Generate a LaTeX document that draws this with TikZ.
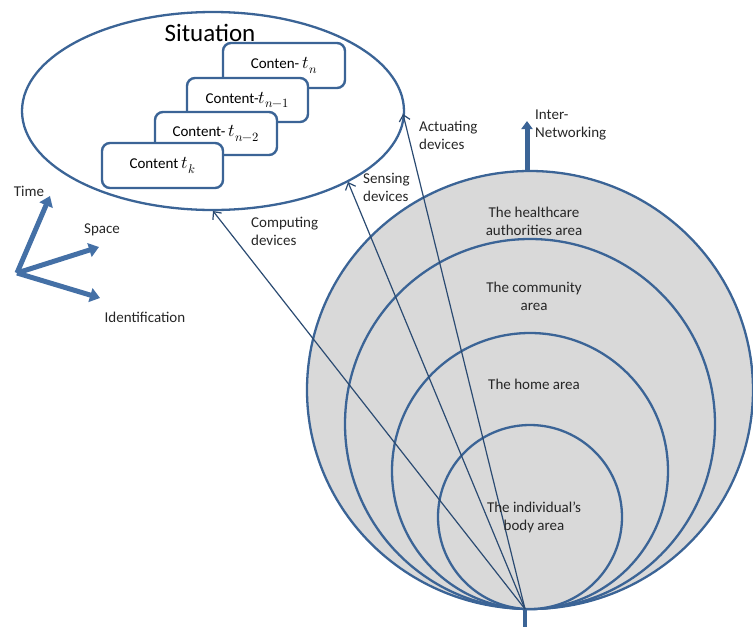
\documentclass[tikz,border=0pt]{standalone}
\usepackage{fontspec}
\usepackage{unicode-math}
\setmainfont{Carlito}
\setmathfont{Latin Modern Math}[Scale=1.2]
\usetikzlibrary{shapes.geometric,arrows.meta}
\definecolor{ringblue}{HTML}{3B6496}
\definecolor{linkblue}{HTML}{2B4B72}
\definecolor{axisblue}{HTML}{4470A6}
\definecolor{areagrey}{HTML}{D9D9D9}
\definecolor{txt}{HTML}{262626}
\tikzset{
  ring/.style={circle,draw=ringblue,fill=areagrey,line width=2.3pt,inner sep=0pt},
  contbox/.style={draw=ringblue,fill=white,rounded corners=8pt,line width=2.4pt,inner sep=0pt,text=black},
  link/.style={draw=linkblue,line width=1.2pt,-{Straight Barb[length=6pt,width=11pt,line width=1.2pt]}},
  axis/.style={draw=axisblue,line width=5pt,-{Triangle[length=10pt,width=14pt]}},
  lbl/.style={text=txt,align=left,inner sep=0pt},
  arealbl/.style={text=txt,align=center,inner sep=0pt}
}
\begin{document}
\begin{tikzpicture}[x=1pt,y=-1pt,font=\fontsize{15}{18}\selectfont]
\useasboundingbox (0,0) rectangle (753,627);
\begin{scope}
\clip (0,0) rectangle (753,627);
% concentric areas
\node[ring,ellipse,minimum width=446pt,minimum height=438pt] (hc) at (530,390) {};
\node[ring,minimum size=370pt] (com) at (530,424) {};
\node[ring,minimum size=276pt] (home) at (530,471) {};
\node[ring,minimum size=184pt] (body) at (530,517) {};
\end{scope}
\coordinate (src) at (525,609);
\coordinate (stem) at (525,627);
\draw[draw=ringblue,line width=4.5pt] (src) -- (stem);
% situation
\node[draw=ringblue,line width=2.3pt,ellipse,minimum width=382pt,minimum height=198pt,inner sep=0pt] (sit) at (213,111) {};
\node[text=black,font=\fontsize{25}{30}\selectfont,inner sep=0pt] (sitlbl) at (210,33) {Situation};
\node[contbox,minimum width=122pt,minimum height=45pt] (bn) at (284,65.5) {Conten- $t_n$};
\node[contbox,minimum width=121pt,minimum height=44pt] (bn1) at (247.5,100) {Content-$t_{n-1}$};
\node[contbox,minimum width=122pt,minimum height=43pt] (bn2) at (216,133.5) {Content- $t_{n-2}$};
\node[contbox,minimum width=121pt,minimum height=45pt] (bk) at (162.5,165.5) {Content $t_k$};
% device links
\coordinate (compEnd) at (213,211);
\coordinate (sensEnd) at (348,182);
\coordinate (actEnd) at (403,114);
\draw[link] (src) -- (compEnd);
\draw[link] (src) -- (sensEnd);
\draw[link] (src) -- (actEnd);
\node[lbl,anchor=west] (comp) at (251,231) {Computing\\devices};
\node[lbl,anchor=west] (sens) at (363,187) {Sensing\\devices};
\node[lbl,anchor=west] (act) at (419,135) {Actuating\\devices};
% inter-networking
\coordinate (hcTop) at (527,171);
\coordinate (netTip) at (527,121);
\draw[draw=ringblue,line width=5pt,-{Triangle[length=8pt,width=11pt]}] (hcTop) -- (netTip);
\node[lbl,anchor=west] (net) at (535,125) {Inter-\\Networking};
% area labels
\node[arealbl] (hcl) at (534,221) {The healthcare\\authorities area};
\node[arealbl] (coml) at (534,296) {The community\\area};
\node[arealbl] (homel) at (534,384) {The home area};
\node[arealbl] (bodyl) at (534,517) {The individual’s\\body area};
% axes
\coordinate (orig) at (17,273);
\coordinate (timeTip) at (50,196);
\coordinate (spaceTip) at (99,247);
\coordinate (idTip) at (100,298);
\draw[axis] (orig) -- (timeTip);
\draw[axis] (orig) -- (spaceTip);
\draw[axis] (orig) -- (idTip);
\node[lbl] (timel) at (29,191) {Time};
\node[lbl] (spacel) at (102,230) {Space};
\node[lbl] (idl) at (145,317) {Identification};
\end{tikzpicture}
\end{document}
